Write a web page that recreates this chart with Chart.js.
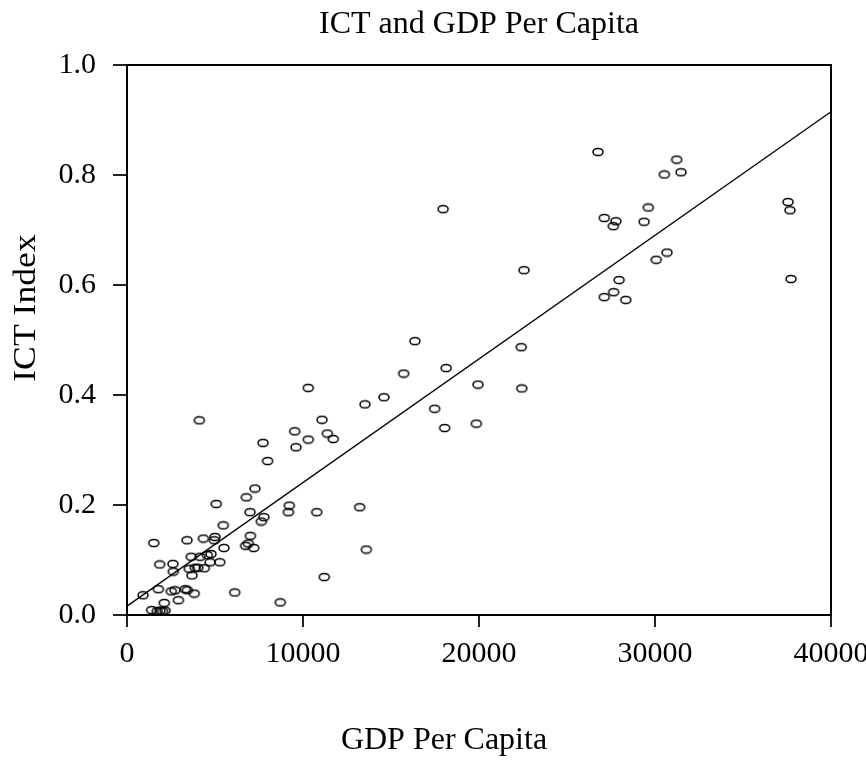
<!DOCTYPE html>
<html>
<head>
<meta charset="utf-8">
<script src="https://cdn.jsdelivr.net/npm/chart.js@4"></script>
<style>
  body { margin: 0; background: #fff; }
</style>
</head>
<body>
<canvas id="ictChart" width="866" height="761"></canvas>
<script>
// data
var gdp = [4110, 9530, 7730, 9600, 7990, 7270, 6780, 5070, 9220, 9170,
    6990, 5470, 7780, 7630, 7010, 6740, 6890, 7200, 1520, 3410,
    4340, 5000, 4960, 5510, 3650, 4150, 4560, 4770, 5270, 4720,
    1860, 2610, 2630, 3540, 3880, 4020, 4390, 3690, 910, 1780,
    2520, 2730, 3310, 3430, 3820, 2920, 2120, 6120, 8710, 1400,
    1720, 1880, 2160, 2020, 10300, 10300, 11080, 11380, 11720, 13520,
    14600, 15720, 16360, 18130, 17480, 18050, 19940, 19850, 22400, 22430,
    10780, 13220, 13600, 11210, 17960, 22560, 26760, 31230, 31480, 30530,
    29620, 27120, 27780, 27630, 29380, 37560, 37670, 37730, 30680, 30070,
    27960, 27650, 27120, 28340];
var ict = [0.354, 0.334, 0.313, 0.305, 0.280, 0.230, 0.214, 0.202, 0.199, 0.187,
    0.187, 0.163, 0.178, 0.170, 0.144, 0.126, 0.130, 0.122, 0.131, 0.136,
    0.139, 0.142, 0.136, 0.122, 0.106, 0.106, 0.109, 0.111, 0.096, 0.096,
    0.092, 0.093, 0.079, 0.084, 0.086, 0.086, 0.085, 0.072, 0.036, 0.047,
    0.043, 0.045, 0.047, 0.045, 0.039, 0.027, 0.022, 0.041, 0.023, 0.009,
    0.007, 0.008, 0.008, 0.007, 0.413, 0.319, 0.355, 0.330, 0.320, 0.383,
    0.396, 0.439, 0.498, 0.449, 0.375, 0.340, 0.419, 0.348, 0.487, 0.412,
    0.187, 0.196, 0.119, 0.069, 0.738, 0.627, 0.842, 0.828, 0.805, 0.801,
    0.741, 0.722, 0.716, 0.707, 0.715, 0.751, 0.736, 0.611, 0.659, 0.646,
    0.609, 0.587, 0.578, 0.573];

// fitted line end points
var fitX = [0, 40000];
var fitY = [0.016, 0.915];

var xTicks = [0, 10000, 20000, 30000, 40000];
var yTicks = [0, 0.2, 0.4, 0.6, 0.8, 1.0];
var xTickLabels = ['0', '10000', '20000', '30000', '40000'];
var yTickLabels = ['0.0', '0.2', '0.4', '0.6', '0.8', '1.0'];

var titleText = 'ICT and GDP Per Capita';
var xTitle = 'GDP Per Capita';
var yTitle = 'ICT Index';

var serif = '"Liberation Serif", "Times New Roman", serif';

// open ellipse used as the point marker
var ring = document.createElement('canvas');
ring.width = 14;
ring.height = 10;
var rc = ring.getContext('2d');
rc.lineWidth = 1.5;
rc.strokeStyle = '#000';
rc.beginPath();
rc.ellipse(7, 5, 5, 3.6, 0, 0, Math.PI * 2);
rc.stroke();

var points = gdp.map(function (g, i) { return { x: g, y: ict[i] }; });
var fitLine = fitX.map(function (g, i) { return { x: g, y: fitY[i] }; });

// box, titles and tick labels
var frameText = {
    id: 'frameText',
    afterDraw(chart) {
        const { ctx, chartArea: { left, right, top, bottom } } = chart;
        const xs = chart.scales.x, ys = chart.scales.y;
        ctx.save();
        ctx.strokeStyle = '#000';
        ctx.lineWidth = 2;
        ctx.strokeRect(left, top, right - left, bottom - top);

        ctx.fillStyle = '#000';
        ctx.textAlign = 'center';
        ctx.textBaseline = 'alphabetic';
        ctx.font = '32px ' + serif;
        ctx.fillText(titleText, (left + right) / 2, 33);
        ctx.fillText(xTitle, 444, 749);

        ctx.font = '30px ' + serif;
        xTicks.forEach(function (v, i) {
            ctx.fillText(xTickLabels[i], xs.getPixelForValue(v), 662);
        });

        ctx.textAlign = 'right';
        ctx.textBaseline = 'middle';
        yTicks.forEach(function (v, i) {
            ctx.fillText(yTickLabels[i], 96, ys.getPixelForValue(v));
        });

        // y title, a bit longer than the other text
        ctx.translate(35, (top + bottom) / 2 - 32);
        ctx.rotate(-Math.PI / 2);
        ctx.scale(1.15, 1);
        ctx.font = '31px ' + serif;
        ctx.textAlign = 'center';
        ctx.textBaseline = 'alphabetic';
        ctx.fillText(yTitle, 0, 0);
        ctx.restore();
    }
};

var config = {
    type: 'scatter',
    data: {
        datasets: [{
            label: 'ICT',
            data: points,
            pointStyle: ring,
            pointRadius: 5,
        }, {
            type: 'line',
            label: 'fit',
            data: fitLine,
            borderColor: '#000',
            borderWidth: 1.4,
            pointRadius: 0,
            fill: false,
        }]
    },
    options: {
        responsive: false,
        animation: false,
        layout: {
            padding: { left: 113, right: 35, top: 65, bottom: 134 }
        },
        scales: {
            x: {
                type: 'linear',
                min: 0,
                max: 40000,
                afterBuildTicks: function (scale) {
                    scale.ticks = xTicks.map(function (v) { return { value: v }; });
                },
                ticks: { display: false },
                border: { display: false },
                grid: { drawOnChartArea: false, drawTicks: true, tickLength: 12, color: '#222', lineWidth: 2 }
            },
            y: {
                type: 'linear',
                min: 0,
                max: 1,
                afterBuildTicks: function (scale) {
                    scale.ticks = yTicks.map(function (v) { return { value: v }; });
                },
                ticks: { display: false },
                border: { display: false },
                grid: { drawOnChartArea: false, drawTicks: true, tickLength: 14, color: '#222', lineWidth: 2 }
            }
        },
        plugins: {
            legend: { display: false },
            tooltip: { enabled: false }
        }
    },
    plugins: [frameText]
};

var ictChart = new Chart(document.getElementById('ictChart'), config);
</script>
</body>
</html>
